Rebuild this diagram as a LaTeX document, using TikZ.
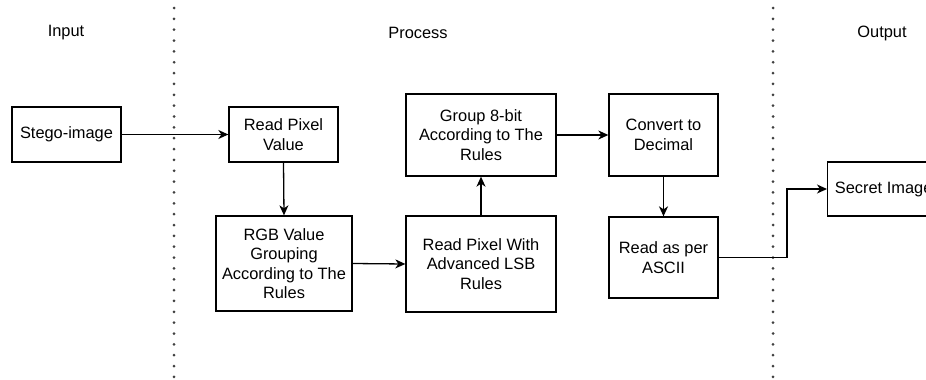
\documentclass[tikz,border=0pt]{standalone}
\usepackage{fontspec}
\setmainfont{Liberation Sans}
\usetikzlibrary{arrows.meta}
\begin{document}
\begin{tikzpicture}[x=1pt,y=-1pt,
  box/.style={draw=black,line width=1.3pt,align=center,inner sep=0pt,
    font=\fontsize{16.4}{19.5}\selectfont},
  head/.style={font=\fontsize{16.4}{19.5}\selectfont},
  conn/.style={draw=black,line width=1.3pt,-{Stealth[length=10pt,width=9pt,inset=3pt]}},
  sep/.style={draw=black!75,line width=3pt,line cap=round,dash pattern=on 0pt off 10.85pt}]
\useasboundingbox (0,0) rectangle (926,380);
\clip (0,0) rectangle (926,380);
\fill[white] (0,0) rectangle (926,380);
% separators
\coordinate (s1top) at (174,8);
\coordinate (s1bot) at (174,385);
\coordinate (s2top) at (773,8);
\coordinate (s2bot) at (773,385);
\draw[sep] (s1top) -- (s1bot);
\draw[sep] (s2top) -- (s2bot);
% headers
\node[head] (hin) at (66,33) {Input};
\node[head] (hpr) at (418,33) {Process};
\node[head] (hout) at (882,33) {Output};
% boxes
\node[box,minimum width=109pt,minimum height=55pt] (stego) at (66.5,134.5) {Stego-image};
\node[box,minimum width=109pt,minimum height=55pt] (read) at (283.5,134.5) {Read Pixel\\Value};
\node[box,minimum width=136pt,minimum height=95pt] (rgb) at (284,263.5) {RGB Value\\Grouping\\According to The\\Rules};
\node[box,minimum width=150pt,minimum height=96pt] (lsb) at (481,264) {Read Pixel With\\Advanced LSB\\Rules};
\node[box,minimum width=150pt,minimum height=82pt] (group) at (481,135) {Group 8-bit\\According to The\\Rules};
\node[box,minimum width=109pt,minimum height=82pt] (conv) at (663.5,135) {Convert to\\Decimal};
\node[box,minimum width=109pt,minimum height=81pt] (ascii) at (663.5,257.5) {Read as per\\ASCII};
\node[box,minimum width=112pt,minimum height=54pt,anchor=west] (secret) at (827,189) {Secret Image};
% connectors
\coordinate (bend) at (787,0);
\draw[conn] (stego.east) -- (read.west);
\draw[conn] (read.south) -- (rgb.north);
\draw[conn] (rgb.east) -- (lsb.west);
\draw[conn] (lsb.north) -- (group.south);
\draw[conn] (group.east) -- (conv.west);
\draw[conn] (conv.south) -- (ascii.north);
\draw[conn] (ascii.east) -- (ascii.east -| bend) |- (secret.west);
\end{tikzpicture}
\end{document}
